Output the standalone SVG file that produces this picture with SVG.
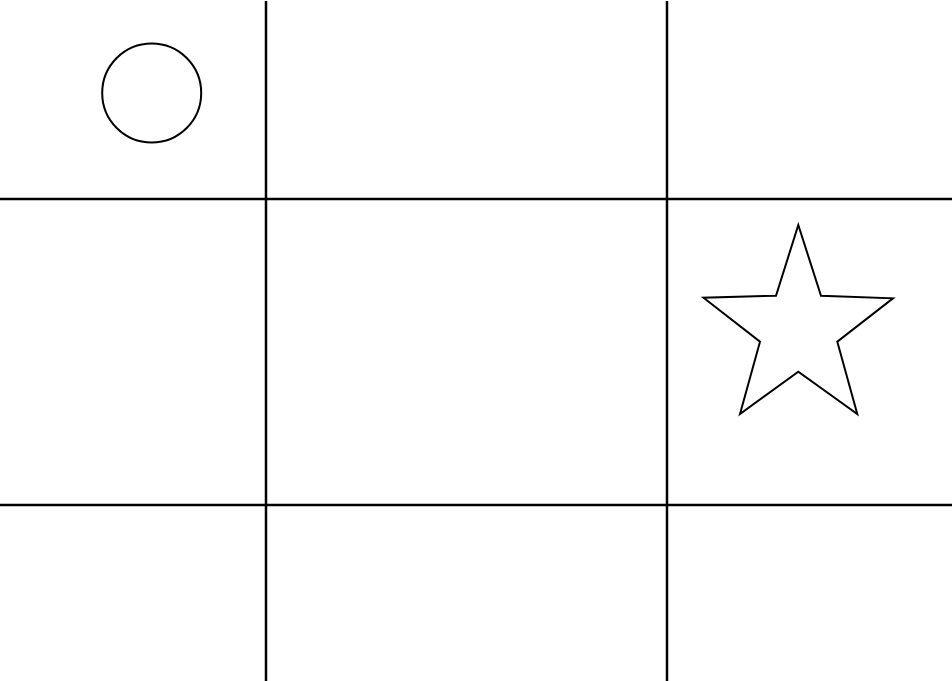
<svg xmlns="http://www.w3.org/2000/svg" width="952" height="681" viewBox="0 0 952 681">
<style>
.grid{stroke:#000;stroke-width:2.5;fill:none}
.shape{stroke:#000;stroke-width:2;fill:#fff}
</style>
<rect width="952" height="681" fill="#fff"/>
<g id="grid" class="grid">
<line x1="266" y1="1" x2="266" y2="681"/>
<line x1="667" y1="1" x2="667" y2="681"/>
<line x1="0" y1="199" x2="952" y2="199"/>
<line x1="0" y1="505" x2="952" y2="505"/>
</g>
<g id="circle"><circle class="shape" cx="151.7" cy="93" r="49.5"/></g>
<g id="star"><polygon class="shape" points="798.3,225 821,295.7 893,298.3 837.3,341.7 857.3,414 798.3,371.7 740,414 760,341.7 703.5,297.7 776,295.7"/></g>
</svg>
